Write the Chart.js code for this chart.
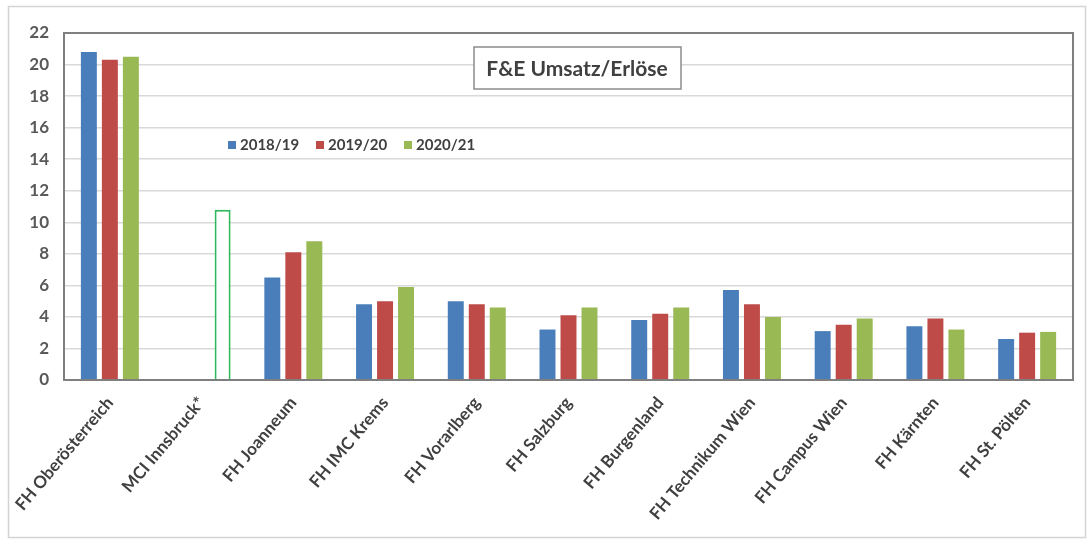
<!DOCTYPE html>
<html>
<head>
<meta charset="utf-8">
<script src="https://cdn.jsdelivr.net/npm/chart.js@4"></script>
<style>
  html, body { margin: 0; padding: 0; background: #fff; }
  #wrap { width: 1091px; height: 542px; position: relative; }
</style>
</head>
<body>
<div id="wrap"><canvas id="chart"></canvas></div>
<script>
const categories = ['FH Oberösterreich', 'MCI Innsbruck*', 'FH Joanneum', 'FH IMC Krems', 'FH Vorarlberg',
    'FH Salzburg', 'FH Burgenland', 'FH Technikum Wien', 'FH Campus Wien', 'FH Kärnten', 'FH St. Pölten'];
const seriesLabels = ['2018/19', '2019/20', '2020/21'];
const values1819 = [20.8, null, 6.5, 4.8, 5.0, 3.2, 3.8, 5.7, 3.1, 3.4, 2.6];
const values1920 = [20.3, null, 8.1, 5.0, 4.8, 4.1, 4.2, 4.8, 3.5, 3.9, 3.0];
const values2021 = [20.5, 10.8, 8.8, 5.9, 4.6, 4.6, 4.6, 4.0, 3.9, 3.2, 3.05];
const yTicks = [0, 2, 4, 6, 8, 10, 12, 14, 16, 18, 20, 22];
const chartTitle = 'F&E Umsatz/Erlöse';
// index of the estimated (outlined) bar
const outlinedIndex = 1;

const colors = ['#4a7ebb', '#be4b48', '#98b954'];
const FONT = 'Lato, "Liberation Sans", sans-serif';

// frame, plot border, title box and in-plot legend
const decorations = {
    id: 'decorations',
    beforeDraw(chart) {
        const ctx = chart.ctx;
        ctx.save();
        ctx.strokeStyle = '#d4d4d4';
        ctx.lineWidth = 1.5;
        ctx.strokeRect(8.5, 6.5, 1077, 531);
        ctx.restore();
    },
    afterDraw(chart) {
        const ctx = chart.ctx;
        const a = chart.chartArea;
        ctx.save();
        ctx.strokeStyle = '#7f7f7f';
        ctx.lineWidth = 2;
        ctx.strokeRect(a.left, a.top, a.right - a.left, a.bottom - a.top);

        // title box
        ctx.fillStyle = '#fff';
        ctx.fillRect(474, 47, 207, 42);
        ctx.strokeStyle = '#8c8c8c';
        ctx.lineWidth = 1.5;
        ctx.strokeRect(474, 47, 207, 42);
        ctx.font = 'bold 21px ' + FONT;
        ctx.fillStyle = '#404040';
        ctx.textAlign = 'center';
        ctx.textBaseline = 'middle';
        ctx.fillText(chartTitle, 577, 69);

        // legend
        ctx.font = 'bold 15px ' + FONT;
        ctx.textAlign = 'left';
        let x = 228;
        const y = 145;
        seriesLabels.forEach((lab, i) => {
            ctx.fillStyle = colors[i];
            ctx.fillRect(x, y - 4, 8, 8);
            ctx.fillStyle = '#404040';
            ctx.fillText(lab, x + 12, y);
            x += 88;
        });
        ctx.restore();
    }
};

new Chart(document.getElementById('chart'), {
    type: 'bar',
    data: {
        labels: categories,
        datasets: [
            { label: seriesLabels[0], data: values1819, backgroundColor: colors[0] },
            { label: seriesLabels[1], data: values1920, backgroundColor: colors[1] },
            {
                label: seriesLabels[2], data: values2021,
                backgroundColor: c => c.dataIndex === outlinedIndex ? '#ffffff' : colors[2],
                borderColor: c => c.dataIndex === outlinedIndex ? '#2eb85c' : colors[2],
                borderWidth: c => c.dataIndex === outlinedIndex ? 2 : 0
            }
        ]
    },
    options: {
        responsive: true,
        maintainAspectRatio: false,
        animation: false,
        categoryPercentage: 0.687,
        barPercentage: 0.76,
        layout: { padding: { left: 8, top: 33, right: 18, bottom: 6 } },
        plugins: {
            legend: { display: false },
            tooltip: { enabled: false }
        },
        scales: {
            x: {
                grid: { display: false },
                border: { display: false },
                ticks: {
                    color: '#404040',
                    font: { family: FONT, size: 17, weight: 'bold' },
                    minRotation: 50,
                    maxRotation: 50,
                    padding: 5,
                    autoSkip: false
                },
                afterFit: s => { s.height = 156; }
            },
            y: {
                min: 0,
                max: 22,
                afterBuildTicks: s => { s.ticks = yTicks.map(v => ({ value: v })); },
                grid: { color: '#d9d9d9', lineWidth: 1.5, drawTicks: false },
                border: { display: false },
                ticks: {
                    color: '#595959',
                    font: { family: FONT, size: 17, weight: 'bold' },
                    padding: 15
                },
                afterFit: s => { s.width = 56; }
            }
        }
    },
    plugins: [decorations]
});
</script>
</body>
</html>
